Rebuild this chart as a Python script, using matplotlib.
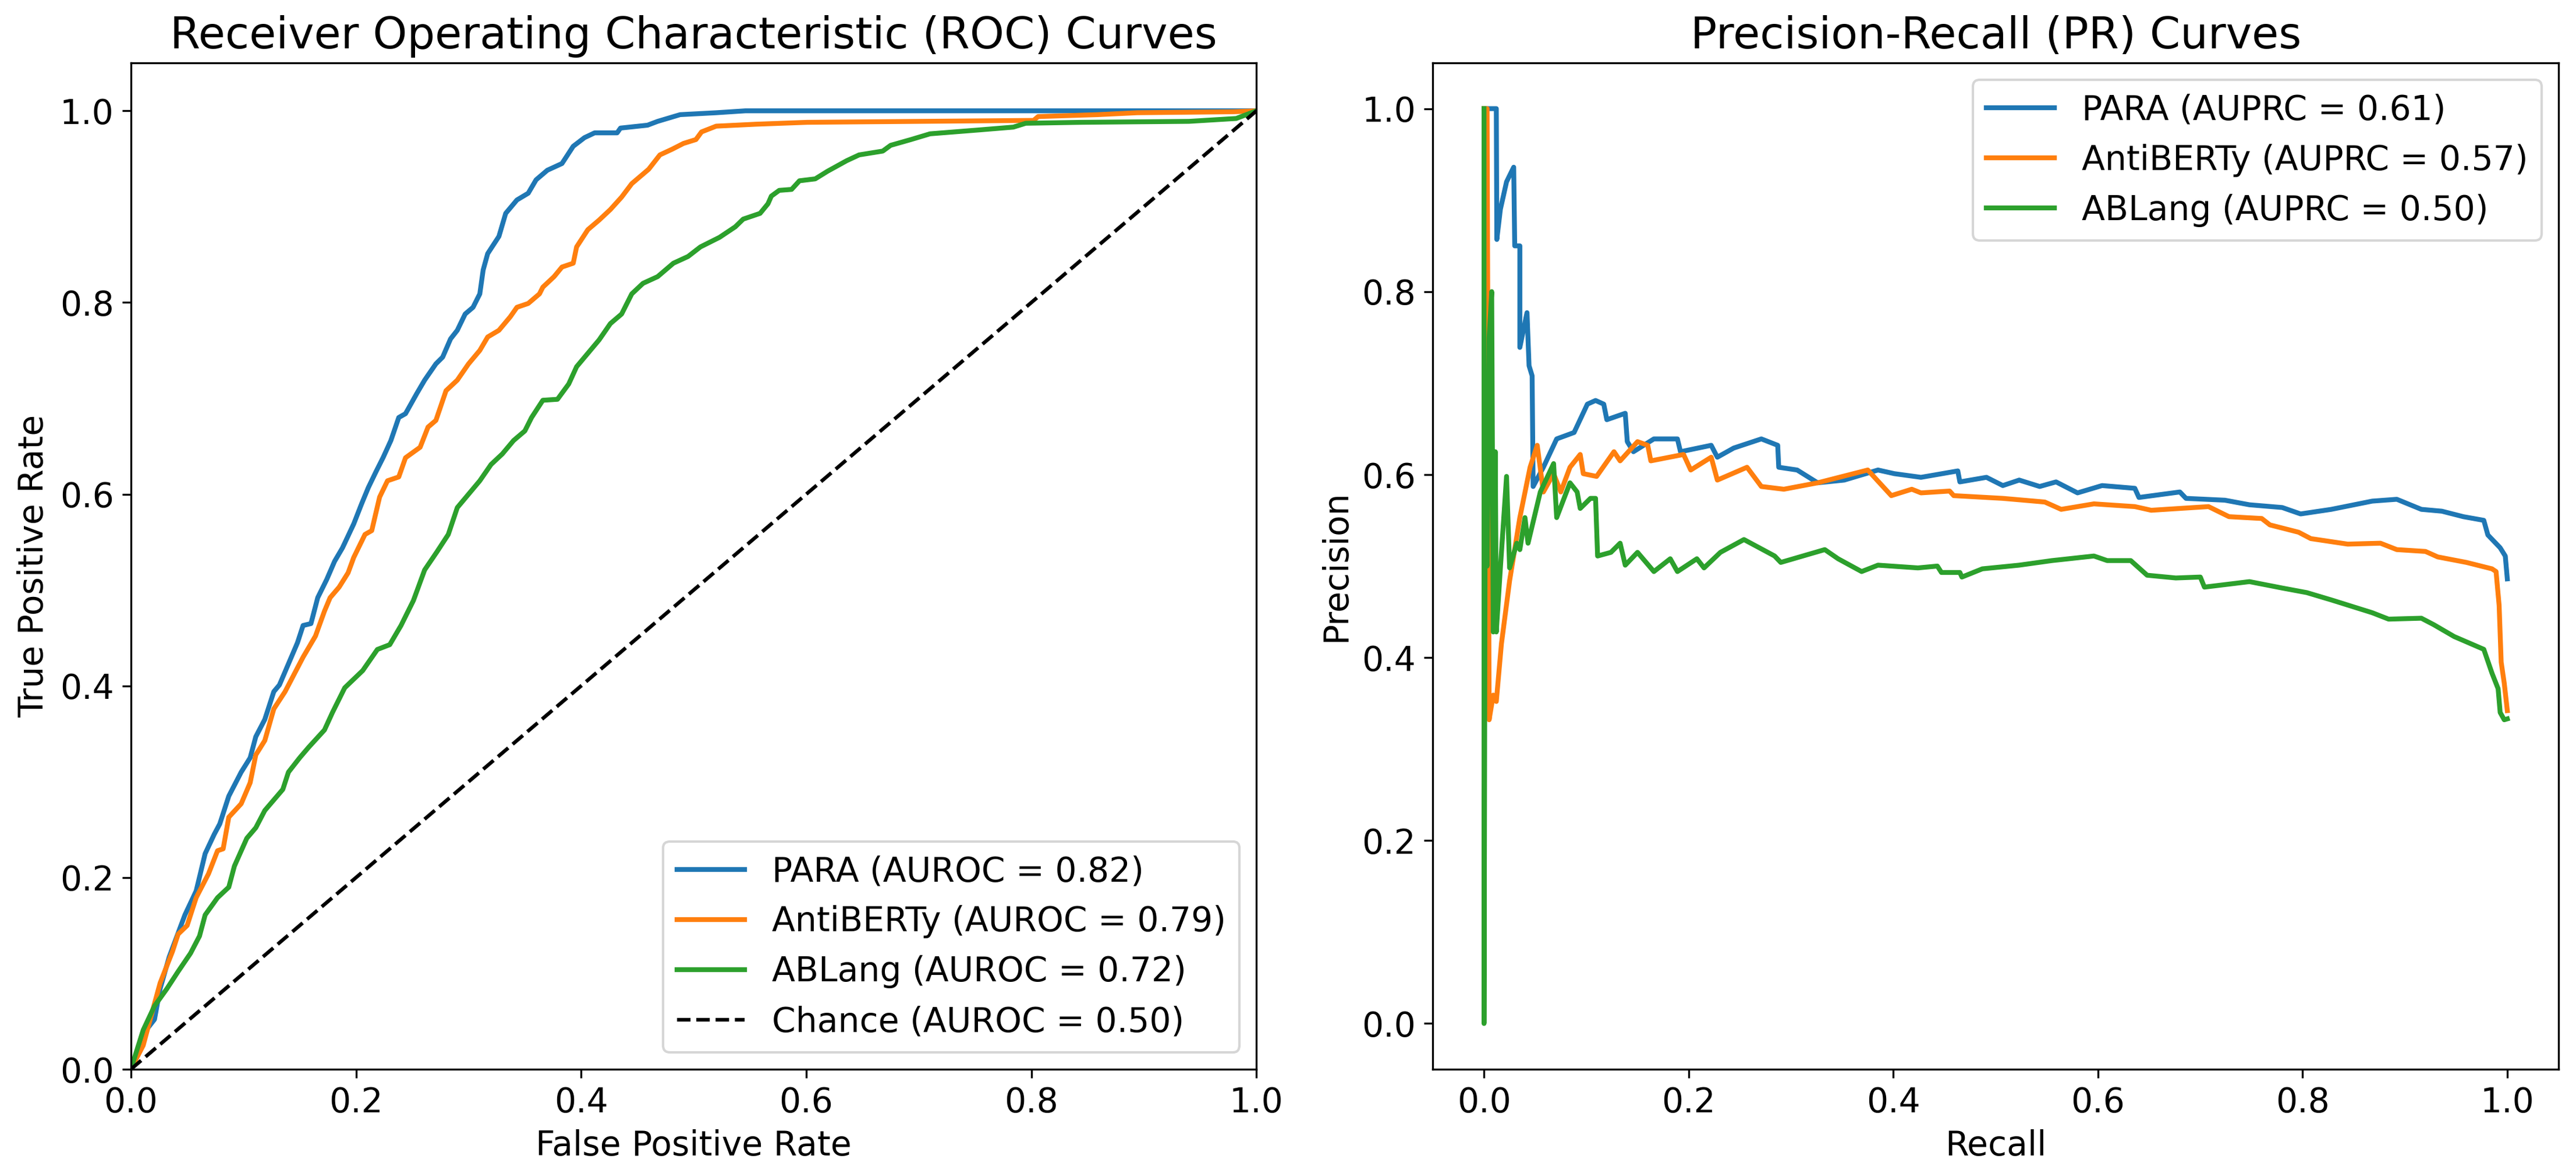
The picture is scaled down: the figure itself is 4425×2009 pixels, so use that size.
import numpy as np
import matplotlib
matplotlib.use("Agg")
import matplotlib.pyplot as plt

models = ["PARA", "AntiBERTy", "ABLang"]
auroc = [0.82, 0.79, 0.72]
auprc = [0.61, 0.57, 0.50]
colors = ["#1f77b4", "#ff7f0e", "#2ca02c"]

# ROC curves (FPR, TPR)
para_fpr = [0.0, 0.011, 0.021, 0.026, 0.034, 0.048, 0.058, 0.066, 0.074, 0.079, 0.087, 0.098, 0.106,
            0.111, 0.119, 0.127, 0.132, 0.140, 0.148, 0.153, 0.160, 0.166, 0.174, 0.181, 0.188,
            0.198, 0.205, 0.211, 0.218, 0.224, 0.231, 0.238, 0.244, 0.254, 0.261, 0.271, 0.277,
            0.284, 0.290, 0.297, 0.304, 0.310, 0.313, 0.317, 0.327, 0.333, 0.343, 0.353, 0.360,
            0.370, 0.383, 0.393, 0.403, 0.412, 0.432, 0.435, 0.459, 0.468, 0.488, 0.520, 0.546, 1.0]
para_tpr = [0.0, 0.037, 0.052, 0.084, 0.117, 0.161, 0.186, 0.225, 0.245, 0.256, 0.285, 0.310, 0.325,
            0.347, 0.365, 0.394, 0.401, 0.423, 0.445, 0.463, 0.465, 0.492, 0.511, 0.530, 0.544,
            0.569, 0.590, 0.607, 0.624, 0.638, 0.656, 0.680, 0.684, 0.705, 0.719, 0.736, 0.743,
            0.762, 0.771, 0.788, 0.795, 0.809, 0.834, 0.851, 0.869, 0.893, 0.907, 0.914, 0.928,
            0.938, 0.945, 0.963, 0.972, 0.977, 0.977, 0.982, 0.985, 0.989, 0.996, 0.998, 1.0, 1.0]

anti_fpr = [0.0, 0.011, 0.016, 0.026, 0.037, 0.042, 0.050, 0.058, 0.069, 0.077, 0.082, 0.087, 0.098,
            0.106, 0.111, 0.119, 0.127, 0.137, 0.145, 0.153, 0.164, 0.172, 0.177, 0.185, 0.193,
            0.198, 0.208, 0.214, 0.221, 0.228, 0.238, 0.244, 0.257, 0.264, 0.271, 0.280, 0.290,
            0.300, 0.310, 0.317, 0.327, 0.337, 0.343, 0.353, 0.363, 0.366, 0.376, 0.383, 0.393,
            0.396, 0.406, 0.416, 0.426, 0.436, 0.445, 0.460, 0.470, 0.481, 0.491, 0.502, 0.507,
            0.520, 0.555, 0.601, 0.802, 0.806, 0.859, 0.894, 0.979, 1.0]
anti_tpr = [0.0, 0.025, 0.047, 0.090, 0.123, 0.141, 0.150, 0.179, 0.204, 0.228, 0.230, 0.263, 0.277,
            0.299, 0.328, 0.343, 0.376, 0.394, 0.412, 0.430, 0.452, 0.478, 0.492, 0.503, 0.518,
            0.534, 0.558, 0.562, 0.597, 0.614, 0.618, 0.638, 0.649, 0.670, 0.677, 0.708, 0.719,
            0.736, 0.750, 0.764, 0.771, 0.785, 0.795, 0.799, 0.809, 0.816, 0.827, 0.837, 0.841,
            0.858, 0.876, 0.886, 0.897, 0.910, 0.924, 0.939, 0.954, 0.960, 0.966, 0.970, 0.978,
            0.984, 0.986, 0.988, 0.990, 0.994, 0.996, 0.998, 0.999, 1.0]

abl_fpr = [0.0, 0.011, 0.021, 0.032, 0.042, 0.053, 0.061, 0.066, 0.077, 0.087, 0.092, 0.103, 0.111,
           0.119, 0.127, 0.135, 0.140, 0.150, 0.158, 0.172, 0.179, 0.190, 0.206, 0.219, 0.230,
           0.240, 0.251, 0.261, 0.272, 0.282, 0.290, 0.300, 0.310, 0.320, 0.330, 0.340, 0.350,
           0.356, 0.366, 0.379, 0.389, 0.396, 0.406, 0.416, 0.426, 0.436, 0.445, 0.455, 0.468,
           0.482, 0.495, 0.506, 0.523, 0.537, 0.544, 0.559, 0.566, 0.569, 0.576, 0.587, 0.594,
           0.608, 0.619, 0.636, 0.647, 0.668, 0.675, 0.693, 0.710, 0.753, 0.784, 0.795, 0.845,
           0.940, 0.982, 1.0]
abl_tpr = [0.0, 0.041, 0.066, 0.084, 0.102, 0.121, 0.139, 0.161, 0.179, 0.190, 0.212, 0.241, 0.252,
           0.270, 0.281, 0.292, 0.310, 0.325, 0.336, 0.354, 0.372, 0.398, 0.416, 0.438, 0.443,
           0.463, 0.489, 0.521, 0.540, 0.558, 0.586, 0.600, 0.614, 0.631, 0.642, 0.656, 0.666,
           0.680, 0.698, 0.699, 0.715, 0.733, 0.747, 0.761, 0.778, 0.788, 0.809, 0.820, 0.827,
           0.841, 0.848, 0.858, 0.868, 0.879, 0.887, 0.893, 0.903, 0.911, 0.917, 0.918, 0.927,
           0.929, 0.937, 0.948, 0.954, 0.958, 0.964, 0.970, 0.976, 0.980, 0.983, 0.987, 0.988,
           0.989, 0.992, 1.0]

# PR curves (recall, precision)
para_rec = [0.0, 0.012, 0.0125, 0.016, 0.022, 0.029, 0.030, 0.035, 0.035, 0.042, 0.044, 0.047, 0.048,
            0.058, 0.071, 0.088, 0.101, 0.109, 0.117, 0.120, 0.138, 0.140, 0.146, 0.166, 0.189,
            0.192, 0.222, 0.228, 0.244, 0.271, 0.287, 0.288, 0.306, 0.326, 0.352, 0.385, 0.401,
            0.427, 0.463, 0.465, 0.491, 0.507, 0.523, 0.543, 0.559, 0.580, 0.604, 0.636, 0.640,
            0.680, 0.686, 0.724, 0.748, 0.780, 0.798, 0.828, 0.868, 0.892, 0.916, 0.936, 0.957,
            0.977, 0.981, 0.993, 0.998, 1.0]
para_prec = [1.0, 1.0, 0.857, 0.89, 0.92, 0.936, 0.850, 0.850, 0.739, 0.777, 0.719, 0.708, 0.587,
             0.608, 0.639, 0.646, 0.677, 0.681, 0.677, 0.660, 0.667, 0.636, 0.625, 0.639, 0.639,
             0.625, 0.632, 0.619, 0.629, 0.639, 0.632, 0.608, 0.605, 0.591, 0.594, 0.605, 0.601,
             0.597, 0.604, 0.592, 0.597, 0.588, 0.594, 0.587, 0.592, 0.580, 0.588, 0.585, 0.575,
             0.581, 0.574, 0.572, 0.567, 0.564, 0.557, 0.562, 0.571, 0.573, 0.562, 0.560, 0.554,
             0.550, 0.534, 0.520, 0.511, 0.486]

anti_rec = [0.0, 0.003, 0.005, 0.009, 0.012, 0.017, 0.025, 0.035, 0.045, 0.052, 0.058, 0.068, 0.075,
            0.084, 0.094, 0.097, 0.110, 0.127, 0.133, 0.150, 0.160, 0.163, 0.195, 0.202, 0.222,
            0.228, 0.257, 0.271, 0.293, 0.326, 0.375, 0.398, 0.418, 0.427, 0.455, 0.459, 0.507,
            0.548, 0.564, 0.596, 0.636, 0.652, 0.708, 0.728, 0.760, 0.768, 0.796, 0.808, 0.844,
            0.876, 0.892, 0.920, 0.932, 0.960, 0.985, 0.989, 0.992, 0.994, 0.997, 1.0]
anti_prec = [1.0, 1.0, 0.332, 0.359, 0.352, 0.415, 0.484, 0.553, 0.608, 0.632, 0.581, 0.601, 0.581,
             0.608, 0.622, 0.601, 0.598, 0.625, 0.615, 0.636, 0.632, 0.615, 0.622, 0.605, 0.619,
             0.594, 0.608, 0.587, 0.584, 0.591, 0.605, 0.577, 0.584, 0.580, 0.582, 0.577, 0.574,
             0.570, 0.562, 0.568, 0.565, 0.561, 0.565, 0.554, 0.552, 0.545, 0.537, 0.530, 0.524,
             0.525, 0.518, 0.516, 0.510, 0.504, 0.497, 0.494, 0.457, 0.395, 0.372, 0.342]

abl_rec = [0.0, 0.0, 0.001, 0.002, 0.003, 0.004, 0.005, 0.0075, 0.009, 0.011, 0.012, 0.016, 0.022,
           0.025, 0.032, 0.035, 0.040, 0.043, 0.055, 0.068, 0.071, 0.084, 0.091, 0.094, 0.104,
           0.109, 0.111, 0.124, 0.133, 0.138, 0.150, 0.166, 0.182, 0.189, 0.208, 0.215, 0.231,
           0.254, 0.284, 0.290, 0.333, 0.346, 0.369, 0.385, 0.424, 0.443, 0.447, 0.465, 0.467,
           0.487, 0.523, 0.555, 0.596, 0.609, 0.632, 0.648, 0.676, 0.700, 0.704, 0.748, 0.780,
           0.804, 0.828, 0.868, 0.884, 0.916, 0.928, 0.948, 0.977, 0.985, 0.991, 0.993, 0.997, 1.0]
abl_prec = [1.0, 0.0, 0.5, 0.667, 0.5, 0.6, 0.75, 0.8, 0.428, 0.625, 0.428, 0.498, 0.598,
            0.498, 0.525, 0.518, 0.553, 0.525, 0.581, 0.612, 0.553, 0.591, 0.581, 0.563, 0.574,
            0.574, 0.511, 0.515, 0.525, 0.501, 0.515, 0.494, 0.508, 0.494, 0.508, 0.498, 0.515,
            0.529, 0.511, 0.504, 0.518, 0.508, 0.494, 0.501, 0.498, 0.500, 0.493, 0.493, 0.488,
            0.497, 0.501, 0.506, 0.511, 0.506, 0.506, 0.490, 0.487, 0.488, 0.477, 0.483, 0.476,
            0.471, 0.463, 0.449, 0.442, 0.443, 0.436, 0.423, 0.409, 0.383, 0.366, 0.340, 0.332, 0.333]

roc = [(para_fpr, para_tpr), (anti_fpr, anti_tpr), (abl_fpr, abl_tpr)]
pr = [(para_rec, para_prec), (anti_rec, anti_prec), (abl_rec, abl_prec)]

plt.rcParams["font.size"] = 14

fig, (ax1, ax2) = plt.subplots(1, 2, figsize=(14.75, 6.697), dpi=300)
fig.subplots_adjust(left=0.0508, right=0.9932, bottom=0.0861, top=0.9462, wspace=0.1567)

# ROC
for name, a, (x, y), c in zip(models, auroc, roc, colors):
    ax1.plot(x, y, color=c, lw=2, label=f"{name} (AUROC = {a:.2f})")
ax1.plot([0, 1], [0, 1], "k--", lw=1.5, label="Chance (AUROC = 0.50)")
ax1.set_xlim(0, 1)
ax1.set_ylim(0, 1.05)
ax1.set_xlabel("False Positive Rate")
ax1.set_ylabel("True Positive Rate")
ax1.set_title("Receiver Operating Characteristic (ROC) Curves", fontsize=18)
ax1.legend(loc="lower right")

# PR
for name, a, (x, y), c in zip(models, auprc, pr, colors):
    ax2.plot(x, y, color=c, lw=2, label=f"{name} (AUPRC = {a:.2f})")
ax2.set_xlabel("Recall")
ax2.set_ylabel("Precision")
ax2.set_title("Precision-Recall (PR) Curves", fontsize=18)
ax2.legend(loc="upper right")

fig.savefig("out.png", dpi=300)
